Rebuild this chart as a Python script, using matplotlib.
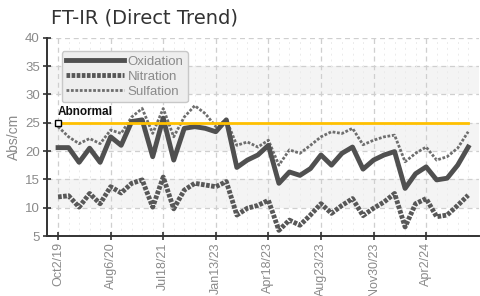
import numpy as np
import matplotlib
matplotlib.use("Agg")
import matplotlib.pyplot as plt

# Data (one point per sample, evenly spaced)
tick_labels = ["Oct2/19", "Aug6/20", "Jul18/21", "Jan13/23", "Apr18/23", "Aug23/23", "Nov30/23", "Apr2/24"]
oxidation = [20.6, 20.6, 18.0, 20.5, 18.0, 22.5, 21.0, 25.2, 25.5, 19.0,
             25.8, 18.4, 24.0, 24.3, 24.0, 23.4, 25.5, 17.1, 18.4, 19.3,
             21.0, 14.3, 16.3, 15.7, 16.9, 19.3, 17.5, 19.6, 20.7, 16.8,
             18.4, 19.3, 19.9, 13.4, 16.0, 17.2, 14.9, 15.2, 17.5, 20.7]
nitration = [11.9, 12.1, 10.1, 12.5, 10.7, 13.7, 12.6, 14.3, 14.9, 10.1,
             15.4, 9.8, 13.1, 14.3, 14.0, 13.7, 14.6, 8.7, 9.9, 10.4,
             11.3, 6.0, 7.8, 6.9, 8.7, 10.7, 9.0, 10.4, 11.6, 8.6,
             9.9, 11.0, 12.5, 6.6, 10.7, 11.6, 8.4, 8.7, 10.4, 12.2]
sulfation = [24.3, 22.5, 21.3, 22.2, 21.3, 23.7, 23.1, 26.0, 27.5, 23.1,
             27.5, 22.5, 26.0, 28.0, 26.6, 24.3, 25.5, 21.0, 21.6, 20.7,
             21.9, 17.5, 20.2, 19.6, 21.0, 22.5, 23.4, 23.1, 24.0, 21.1,
             21.9, 22.5, 22.8, 18.1, 19.6, 20.7, 18.4, 19.0, 20.5, 23.4]
abnormal_limit = 25
y_ticks = [5, 10, 15, 20, 25, 30, 35, 40]

x = np.arange(len(oxidation))
tick_pos = x[::5]

font = ["Liberation Sans", "DejaVu Sans"]
gray_txt = "#8a8a8a"

fig = plt.figure(figsize=(4.8, 2.96), dpi=100)
ax = fig.add_axes([0.0973, 0.2027, 0.9, 0.67])
ax.set_xlim(-1.08, 40.0)
ax.set_ylim(5, 40)

# Alternating background bands
for lo in range(10, 40, 10):
    ax.axhspan(lo, lo + 5, color="#f4f4f4", zorder=0, lw=0)

# Grid
for yv in y_ticks[1:]:
    ax.axhline(yv, color="#cfcfcf", ls=(0, (4, 3)), lw=0.9, zorder=1)
for xv in x:
    if xv % 5 == 0:
        ax.axvline(xv, color="#cfcfcf", ls=(0, (4, 3)), lw=0.9, zorder=1)
    else:
        ax.axvline(xv, color="#ebebeb", ls=(0, (2, 4)), lw=0.7, zorder=1)

# Series
l_sul, = ax.plot(x, sulfation, color="#6e6e6e", lw=2.0, ls=(0, (1, 0.6)), zorder=3, label="Sulfation")
l_oxi, = ax.plot(x, oxidation, color="#505050", lw=3.5, zorder=4, label="Oxidation")
l_nit, = ax.plot(x, nitration, color="#585858", lw=3.5, ls=(0, (0.75, 0.3)), zorder=4, label="Nitration")

# Abnormal limit
ax.plot([x[0], x[-1]], [abnormal_limit, abnormal_limit], color="#ffc000", lw=2, zorder=5)
ax.plot([x[0]], [abnormal_limit], marker="s", ms=4.5, mfc="white", mec="black", mew=1, zorder=6)
ax.text(x[0], abnormal_limit + 0.8, "Abnormal", fontsize=8.5, fontweight="bold", color="#111111",
        va="bottom", ha="left", zorder=6, family=font)

# Axes styling
for s in ["top", "right"]:
    ax.spines[s].set_visible(False)
for s in ["left", "bottom"]:
    ax.spines[s].set_color("#333333")
    ax.spines[s].set_linewidth(1.4)
ax.set_yticks(y_ticks)
ax.set_xticks(tick_pos)
ax.set_xticklabels(tick_labels, rotation=90)
ax.tick_params(direction="inout", length=6, width=1.2, color="#333333", labelcolor=gray_txt,
               labelsize=9, pad=1.5)
for lab in ax.get_xticklabels() + ax.get_yticklabels():
    lab.set_family(font)
ax.tick_params(axis="y", labelsize=9.5, pad=2)
ax.set_ylabel("Abs/cm", color=gray_txt, fontsize=10, family=font, labelpad=3)

# Legend box
leg = ax.legend(handles=[l_oxi, l_nit, l_sul], loc="upper left", bbox_to_anchor=(0.019, 0.965),
                frameon=True, fancybox=True, handlelength=4.4, handletextpad=0.25,
                labelspacing=0.2, borderpad=0.35, fontsize=9.5, labelcolor=gray_txt)
for t in leg.get_texts():
    t.set_family(font)
leg.get_frame().set_facecolor("#eeeeee")
leg.get_frame().set_edgecolor("#c8c8c8")
leg.get_frame().set_alpha(1)
leg.set_zorder(7)

fig.text(51 / 480, 1 - 24 / 296, "FT-IR (Direct Trend)", fontsize=14, color="#333333",
         ha="left", va="baseline")

fig.savefig("out.png", dpi=100)
